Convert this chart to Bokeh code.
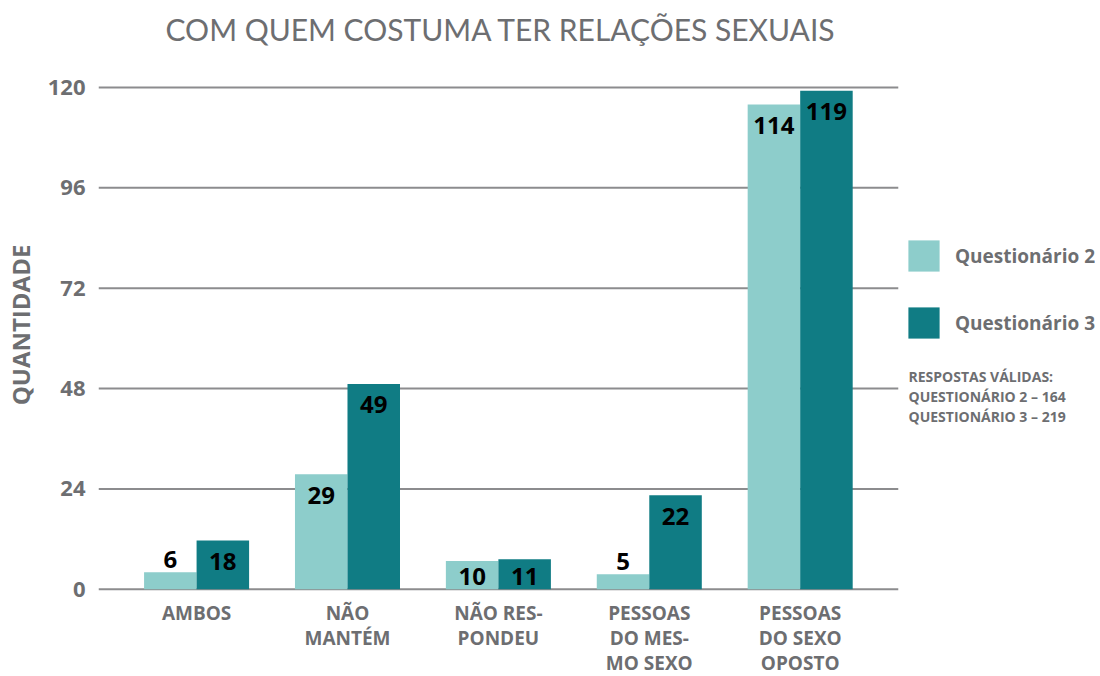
from bokeh.plotting import figure
from bokeh.models import (Range1d, FixedTicker, ColumnDataSource, Legend, LegendItem, Label)
from bokeh.core.properties import value
from bokeh.embed import file_html
from bokeh.resources import INLINE

# ---- data ----
categories = ["AMBOS", "NÃO\nMANTÉM", "NÃO RES-\nPONDEU", "PESSOAS\nDO MES-\nMO SEXO", "PESSOAS\nDO SEXO\nOPOSTO"]
q2_heights = [4.1, 27.5, 6.8, 3.6, 115.9]
q3_heights = [11.7, 49.1, 7.2, 22.5, 119.2]
q2_labels = ["6", "29", "10", "5", "114"]
q3_labels = ["18", "49", "11", "22", "119"]
y_ticks = [0, 24, 48, 72, 96, 120]
series_names = ["Questionário 2", "Questionário 3"]
notes = ["RESPOSTAS VÁLIDAS:", "QUESTIONÁRIO 2 – 164", "QUESTIONÁRIO 3 – 219"]
title_text = "COM QUEM COSTUMA TER RELAÇÕES SEXUAIS"

# ---- style ----
C_Q2 = "#8dcdcb"
C_Q3 = "#107c84"
GRAY = "#6d6e71"
GRID = "#8c8c8e"
FONT = "Open Sans"
BAR_W = 0.348
FRAME_W, FRAME_H = 997, 537
X0 = -0.65
PX_PER_X = 150.9
X1 = X0 + FRAME_W / PX_PER_X
GRID_END = 4.65
PX_PER_UNIT = 4.1825
Y0 = -1
Y1 = Y0 + FRAME_H / PX_PER_UNIT

p = figure(frame_width=FRAME_W, frame_height=FRAME_H,
           min_border_left=92, min_border_right=0, min_border_top=56, min_border_bottom=74,
           x_range=Range1d(X0, X1), y_range=Range1d(Y0, Y1),
           output_backend="svg", toolbar_location=None)
p.outline_line_color = None
p.background_fill_color = "white"
p.border_fill_color = "white"

# title
p.title.text = title_text
p.title.text_font = "Lato"
p.title.text_font_style = "normal"
p.title.text_font_size = "30px"
p.title.text_color = GRAY
p.title.align = "left"
p.title.offset = 67
p.title.vertical_align = "top"
p.title.standoff = 16

# grid lines (drawn as segments, stopping after the last category)
p.xgrid.visible = False
p.ygrid.visible = False
p.segment(x0=[X0] * len(y_ticks), x1=[GRID_END] * len(y_ticks), y0=y_ticks, y1=y_ticks,
          line_color=GRID, line_width=2)

# left axis
ya = p.yaxis[0]
ya.ticker = FixedTicker(ticks=y_ticks)
ya.axis_line_color = None
ya.major_tick_line_color = None
ya.minor_tick_line_color = None
ya.major_tick_out = 0
ya.major_tick_in = 0
ya.minor_tick_out = 0
ya.major_label_standoff = 13
ya.major_label_text_font = FONT
ya.major_label_text_font_style = "bold"
ya.major_label_text_font_size = "22px"
ya.major_label_text_color = GRAY
ya.axis_label = "QUANTIDADE"
ya.axis_label_text_font = FONT
ya.axis_label_text_font_style = "bold"
ya.axis_label_text_font_size = "24px"
ya.axis_label_text_color = GRAY
ya.axis_label_standoff = 8

# bottom axis
idx = list(range(len(categories)))
xa = p.xaxis[0]
xa.ticker = FixedTicker(ticks=idx)
xa.major_label_overrides = {i: c for i, c in zip(idx, categories)}
xa.axis_line_color = None
xa.major_tick_line_color = None
xa.minor_tick_line_color = None
xa.major_tick_out = 0
xa.major_tick_in = 0
xa.minor_tick_out = 0
xa.major_label_standoff = 6
xa.major_label_text_font = FONT
xa.major_label_text_font_style = "bold"
xa.major_label_text_font_size = "19px"
xa.major_label_text_color = GRAY
xa.major_label_text_line_height = 0.97


def label_offsets(heights):
    offs = []
    for h in heights:
        px = h * PX_PER_UNIT
        if px < 20:
            offs.append(-13)
        else:
            offs.append(min(21, px - 13))
    return offs


x_q2 = [i - BAR_W / 2 for i in idx]
x_q3 = [i + BAR_W / 2 for i in idx]

src2 = ColumnDataSource(dict(x=x_q2, top=q2_heights, lab=q2_labels, off=label_offsets(q2_heights)))
src3 = ColumnDataSource(dict(x=x_q3, top=q3_heights, lab=q3_labels, off=label_offsets(q3_heights)))

r2 = p.vbar(x="x", top="top", bottom=0, width=BAR_W, source=src2, fill_color=C_Q2, line_color=None)
r3 = p.vbar(x="x", top="top", bottom=0, width=BAR_W, source=src3, fill_color=C_Q3, line_color=None)

for src in (src2, src3):
    p.text(x="x", y="top", text="lab", y_offset="off", source=src,
           text_align="center", text_baseline="alphabetic",
           text_font=value(FONT), text_font_style="bold", text_font_size="24px",
           text_color="black")

# legend: bar legend glyphs are inset by 10% on each side
GLYPH = 39
legend = Legend(items=[LegendItem(label=series_names[0], renderers=[r2]),
                       LegendItem(label=series_names[1], renderers=[r3])],
                location=(806, 251), orientation="vertical",
                glyph_width=GLYPH, glyph_height=GLYPH, spacing=28, label_standoff=12,
                padding=0, margin=0, border_line_color=None, background_fill_alpha=0,
                label_text_font=FONT, label_text_font_style="bold",
                label_text_font_size="19px", label_text_color=GRAY)
p.add_layout(legend, "center")

for k, t in enumerate(notes):
    p.add_layout(Label(x=810, y=217.5 - 20 * k, x_units="screen", y_units="screen",
                       text=t, text_font=FONT, text_font_style="bold",
                       text_font_size="14px", text_color=GRAY,
                       text_baseline="alphabetic", text_align="left"))

open("out.html", "w").write(file_html(p, INLINE))
